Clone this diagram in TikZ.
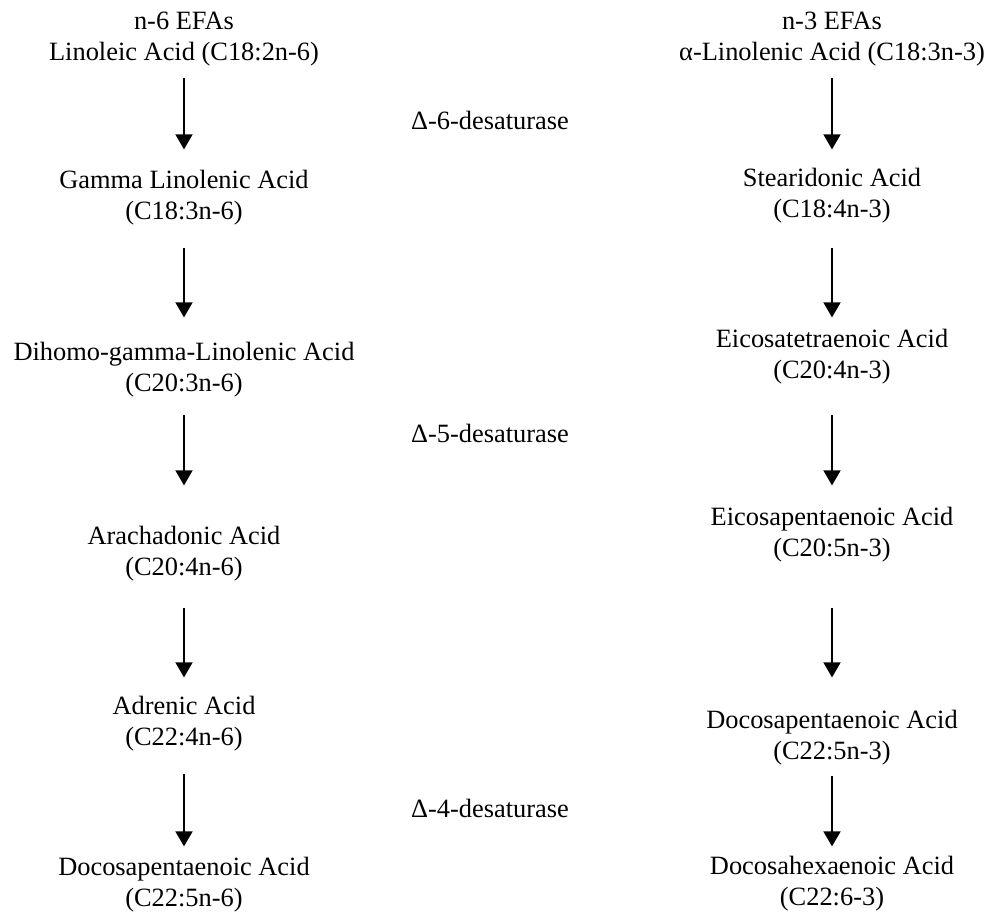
\documentclass[tikz,border=0pt]{standalone}
\usepackage{fontspec}
\setmainfont{Liberation Serif}
\usetikzlibrary{arrows.meta}
\begin{document}
\begin{tikzpicture}[x=1pt,y=-1pt,
  acid/.style={align=center,inner sep=0pt,outer sep=0pt,font=\fontsize{26.4}{31}\selectfont},
  enzyme/.style={inner sep=0pt,font=\fontsize{26.4}{31}\selectfont},
  arr/.style={line width=1.8pt,-{Triangle[width=17pt,length=15pt]}}]
\useasboundingbox (0,0) rectangle (989,915);
% n-6 column
\node[acid] (A1) at (184,39) {n-6 EFAs\\Linoleic Acid (C18:2n-6)};
\node[acid] (A2) at (184,197.5) {Gamma Linolenic Acid\\(C18:3n-6)};
\node[acid] (A3) at (184,370) {Dihomo-gamma-Linolenic Acid\\(C20:3n-6)};
\node[acid] (A4) at (184,554) {Arachadonic Acid\\(C20:4n-6)};
\node[acid] (A5) at (184,723.5) {Adrenic Acid\\(C22:4n-6)};
\node[acid] (A6) at (184,885) {Docosapentaenoic Acid\\(C22:5n-6)};
% n-3 column
\node[acid] (B1) at (832,39) {n-3 EFAs\\α-Linolenic Acid (C18:3n-3)};
\node[acid] (B2) at (832,195.5) {Stearidonic Acid\\(C18:4n-3)};
\node[acid] (B3) at (832,357) {Eicosatetraenoic Acid\\(C20:4n-3)};
\node[acid] (B4) at (832,535) {Eicosapentaenoic Acid\\(C20:5n-3)};
\node[acid] (B5) at (832,738) {Docosapentaenoic Acid\\(C22:5n-3)};
\node[acid] (B6) at (832,884) {Docosahexaenoic Acid\\(C22:6-3)};
% enzymes
\node[enzyme] (E6) at (490,120) {Δ-6-desaturase};
\node[enzyme] (E5) at (490,433) {Δ-5-desaturase};
\node[enzyme] (E4) at (490,808) {Δ-4-desaturase};
% arrows
\draw[arr,shorten <=12.15pt,shorten >=20.65pt] (A1.south) -- (A2.north);
\draw[arr,shorten <=22.65pt,shorten >=25.15pt] (A2.south) -- (A3.north);
\draw[arr,shorten <=17.15pt,shorten >=41.15pt] (A3.south) -- (A4.north);
\draw[arr,shorten <=26.15pt,shorten >=18.65pt] (A4.south) -- (A5.north);
\draw[arr,shorten <=22.65pt,shorten >=11.15pt] (A5.south) -- (A6.north);
\draw[arr,shorten <=12.15pt,shorten >=18.65pt] (B1.south) -- (B2.north);
\draw[arr,shorten <=24.65pt,shorten >=12.15pt] (B2.south) -- (B3.north);
\draw[arr,shorten <=30.15pt,shorten >=22.15pt] (B3.south) -- (B4.north);
\draw[arr,shorten <=45.15pt,shorten >=33.15pt] (B4.south) -- (B5.north);
\draw[arr,shorten <=10.15pt,shorten >=10.15pt] (B5.south) -- (B6.north);
\end{tikzpicture}
\end{document}
